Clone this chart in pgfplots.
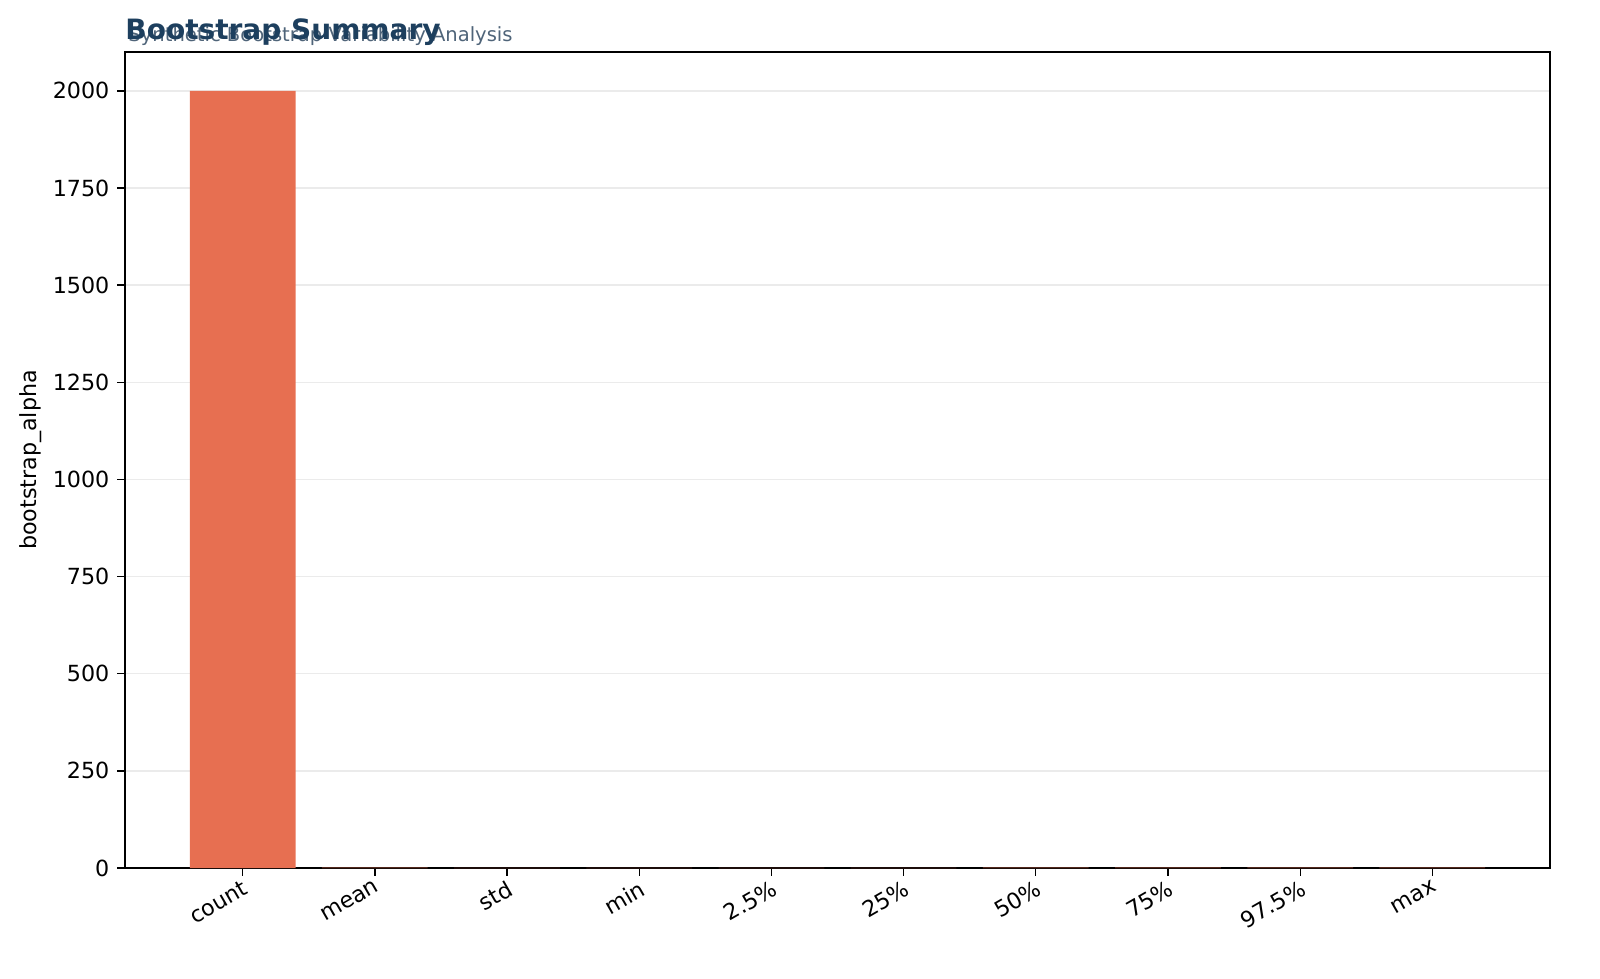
\documentclass[border=0pt]{standalone}
\usepackage{pgfplots}
\pgfplotsset{compat=1.18}
\usepackage{fontspec}
\setmainfont{DejaVu Sans}
\setsansfont{DejaVu Sans}

\definecolor{barcol}{HTML}{E76F51}
\definecolor{titlecol}{HTML}{1D3F5E}
\definecolor{subcol}{HTML}{4F6479}
\definecolor{gridcol}{HTML}{EBEBEB}

\begin{document}
\begin{tikzpicture}
    % page: 1600 x 978 px, 1 px = 0.45pt
    \path[use as bounding box] (0pt,0pt) rectangle (720pt,440.1pt);
    \begin{axis}[
        at={(56.25pt,49.5pt)}, anchor=south west,
        scale only axis,
        width=641.25pt, height=367.2pt,
        ymin=0, ymax=2100,
        xmin=-0.89, xmax=9.89,
        xtick={0,...,9},
        xticklabels={count,mean,std,min,2.5\%,25\%,50\%,75\%,97.5\%,max},
        xticklabel style={rotate=30, anchor=north east, inner sep=1pt},
        ytick={0,250,...,2000},
        ylabel={bootstrap\_alpha},
        ylabel style={yshift=-2pt},
        ymajorgrids=true,
        major grid style={gridcol, line width=0.6pt},
        axis line style={black, line width=0.6pt},
        tick style={black, line width=0.6pt},
        tick align=outside,
        major tick length=3.5pt,
        xtick pos=bottom, ytick pos=left,
        tick label style={font=\fontsize{10}{12}\selectfont},
        label style={font=\fontsize{10}{12}\selectfont},
        /pgf/number format/assume math mode=true,
        /pgf/number format/1000 sep={},
        scaled y ticks=false,
    ]
    \addplot[ybar, bar width=0.8, fill=barcol, draw=none, bar shift=0pt]
    coordinates {
        (0,2000) (1,0.72) (2,0.11) (3,0.31) (4,0.50)
        (5,0.65) (6,0.73) (7,0.80) (8,0.93) (9,1.12)
    };
    \end{axis}
    \node[anchor=base west, text=subcol, font=\fontsize{8.8}{10.5}\selectfont, inner sep=0pt]
        at (57.6pt,421.2pt) {Synthetic Bootstrap Variability Analysis};
    \node[anchor=base west, text=titlecol, font=\bfseries\fontsize{12.6}{15}\selectfont, inner sep=0pt]
        at (56.25pt,422.1pt) {Bootstrap Summary};
\end{tikzpicture}
\end{document}
